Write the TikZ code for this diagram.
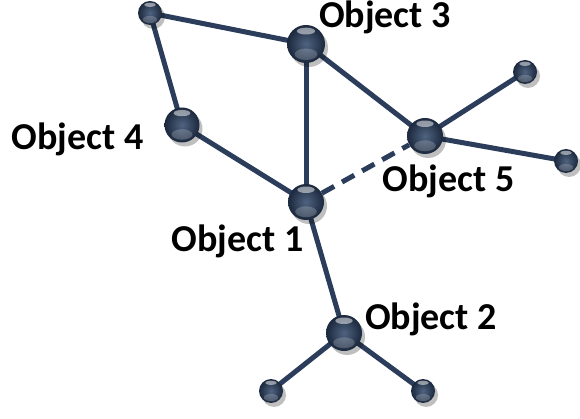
\documentclass[tikz,border=0pt]{standalone}
\usepackage{fontspec}
\setmainfont{Carlito}
\usetikzlibrary{backgrounds,shadows}
\definecolor{linkcol}{HTML}{2B3D5A}
\definecolor{balldark}{HTML}{1B283D}
\definecolor{ballmid}{HTML}{4F6380}
\tikzset{
  link/.style={draw=linkcol, line width=5pt},
  dashlink/.style={link, dash pattern=on 14pt off 9pt},
  ball/.style={circle, inner sep=0pt, minimum size=#1,
    inner color=ballmid, outer color=balldark,
    drop shadow={shadow xshift=3pt, shadow yshift=-4pt, opacity=0.25, fill=black},
    path picture={
      \coordinate (bbn) at (path picture bounding box.north);
      \coordinate (bbc) at (path picture bounding box.center);
      \fill[white, fill opacity=0.5] ([yshift=-0.16*#1]bbn) ellipse [x radius={0.24*#1}, y radius={0.09*#1}];
      \fill[white, fill opacity=0.2] ([yshift=-0.27*#1]bbc) ellipse [x radius={0.3*#1}, y radius={0.15*#1}];
    }},
  lbl/.style={font=\fontsize{38}{42}\selectfont\bfseries, text=black, inner sep=0pt, anchor=base}
}
\begin{document}
\begin{tikzpicture}[x=1pt, y=-1pt]
\useasboundingbox (0,0) rectangle (580,419);
% spheres
\node[ball=38pt] (o3) at (306,44) {};
\node[ball=24pt] (tl) at (150,13) {};
\node[ball=35pt] (o4) at (182,125) {};
\node[ball=36pt] (o1) at (306,202) {};
\node[ball=36pt] (o5) at (425,136) {};
\node[ball=24pt] (tr) at (525,72) {};
\node[ball=24pt] (rr) at (566,161) {};
\node[ball=36pt] (o2) at (344,333) {};
\node[ball=24pt] (bl) at (271,391) {};
\node[ball=24pt] (br) at (423,391) {};
% labels, placed by their baselines
\node[lbl] (l3) at (385,28) {Object 3};
\node[lbl] (l4) at (77.5,150) {Object 4};
\node[lbl] (l5) at (448.5,192) {Object 5};
\node[lbl] (l1) at (237.5,252) {Object 1};
\node[lbl] (l2) at (431,329) {Object 2};
% connectors behind the spheres
\begin{scope}[on background layer]
\draw[link] (tl.center) -- (o3.center);
\draw[link] (tl.center) -- (o4.center);
\draw[link] (o4.center) -- (o1.center);
\draw[link] (o3.center) -- (o1.center);
\draw[link] (o3.center) -- (o5.center);
\draw[link] (o5.center) -- (tr.center);
\draw[link] (o5.center) -- (rr.center);
\draw[link] (o1.center) -- (o2.center);
\draw[link] (o2.center) -- (bl.center);
\draw[link] (o2.center) -- (br.center);
\draw[dashlink] (o1) -- (o5);
\end{scope}
\end{tikzpicture}
\end{document}
